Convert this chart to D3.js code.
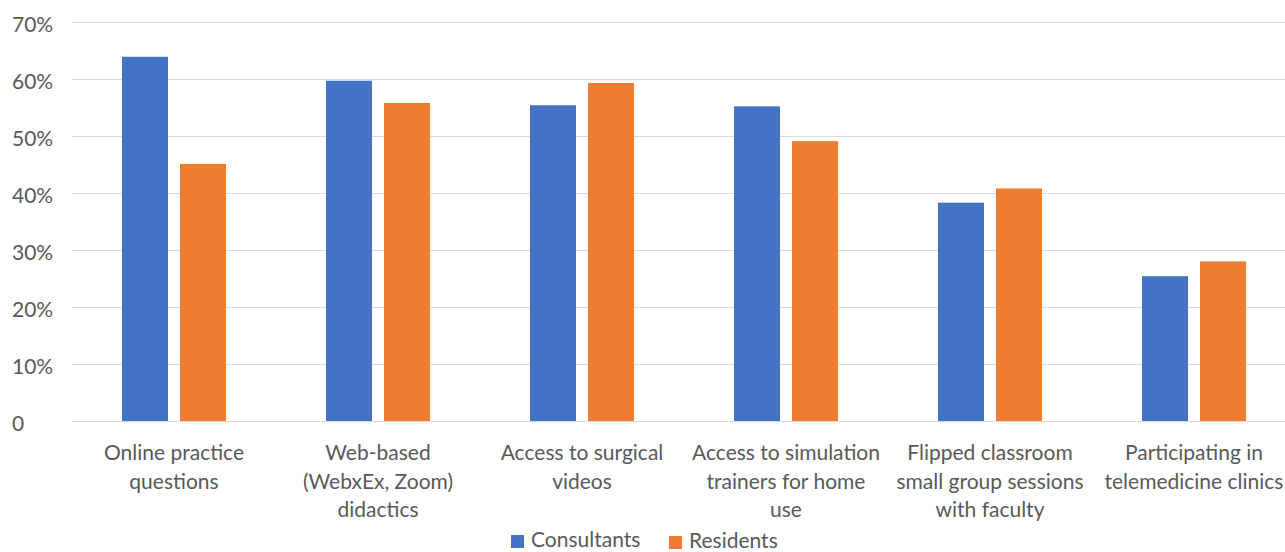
<!DOCTYPE html>
<html>
<head>
<meta charset="utf-8">
<script src="https://cdn.jsdelivr.net/npm/d3@7"></script>
<style>
  html, body { margin: 0; padding: 0; background: #fff; overflow: hidden; }
  svg { display: block; font-family: Lato, "Open Sans", sans-serif; }
</style>
</head>
<body>
<svg id="chart" width="1285" height="552"></svg>
<script>
const categories = [
  "Online practice questions",
  "Web-based (WebxEx, Zoom) didactics",
  "Access to surgical videos",
  "Access to simulation trainers for home use",
  "Flipped classroom small group sessions with faculty",
  "Participating in telemedicine clinics"
];
const categoryLines = [
  ["Online practice", "questions"],
  ["Web-based", "(WebxEx, Zoom)", "didactics"],
  ["Access to surgical", "videos"],
  ["Access to simulation", "trainers for home", "use"],
  ["Flipped classroom", "small group sessions", "with faculty"],
  ["Participating in", "telemedicine clinics"]
];
const seriesNames = ["Consultants", "Residents"];
const consultants = [0.639, 0.597, 0.554, 0.552, 0.383, 0.254];
const residents   = [0.451, 0.558, 0.593, 0.491, 0.408, 0.280];
const yTicks = [0, 0.1, 0.2, 0.3, 0.4, 0.5, 0.6, 0.7];
const colors = ["#4472C4", "#ED7D31"];

const svg = d3.select("#chart");
const seriesValues = [consultants, residents];

const x0 = d3.scaleBand().domain(categories).range([72, 1296]).padding(0);
const x1 = d3.scaleBand().domain(seriesNames).range([50, 154]).paddingInner(12 / 58);
const y = d3.scaleLinear().domain([0, 0.7]).range([421, 22]);

// gridlines
svg.append("g").selectAll("line").data(yTicks).join("line")
  .attr("x1", 72).attr("x2", 1285)
  .attr("y1", d => Math.round(y(d)) + 0.5).attr("y2", d => Math.round(y(d)) + 0.5)
  .attr("stroke", "#d9d9d9").attr("stroke-width", 1);

// y tick labels (left aligned)
svg.append("g").selectAll("text").data(yTicks).join("text")
  .attr("x", 12).attr("y", d => y(d) + 3)
  .attr("dy", "0.35em")
  .attr("font-size", 21).attr("fill", "#595959")
  .text(d => d === 0 ? "0" : d3.format(".0%")(d));

// bars
const groups = svg.append("g").selectAll("g").data(categories).join("g")
  .attr("transform", d => `translate(${x0(d)},0)`);
groups.selectAll("rect")
  .data((c, i) => seriesNames.map((s, j) => ({ s, v: seriesValues[j][i], j })))
  .join("rect")
  .attr("x", d => x1(d.s))
  .attr("width", x1.bandwidth())
  .attr("y", d => y(d.v))
  .attr("height", d => y(0) - y(d.v))
  .attr("fill", d => colors[d.j]);

// category labels
const lab = svg.append("g").selectAll("text").data(categories).join("text")
  .attr("text-anchor", "middle")
  .attr("font-size", 21).attr("fill", "#595959");
lab.each(function (c, i) {
  const t = d3.select(this);
  const cx = x0(c) + x0.bandwidth() / 2;
  categoryLines[i].forEach((line, k) => {
    t.append("tspan").attr("x", cx).attr("y", 460 + k * 28.5).text(line);
  });
});

// legend
const legendX = [511, 669];
const legendY = [547, 548];
seriesNames.forEach((s, j) => {
  svg.append("rect").attr("x", legendX[j]).attr("y", legendY[j] - 12)
    .attr("width", 13).attr("height", 13).attr("fill", colors[j]);
  svg.append("text").attr("x", legendX[j] + 20).attr("y", legendY[j])
    .attr("font-size", 21).attr("fill", "#595959").text(s);
});
</script>
</body>
</html>
